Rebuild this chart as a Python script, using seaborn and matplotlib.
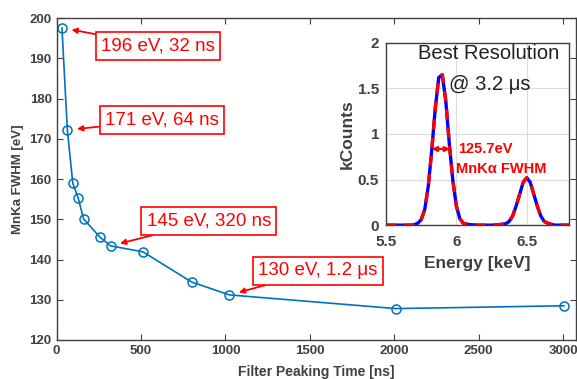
import numpy as np
import pandas as pd
import seaborn as sns
import matplotlib.pyplot as plt

# main curve: FWHM vs filter peaking time
peaking_ns = [32, 64, 96, 128, 160, 256, 320, 512, 800, 1024, 2010, 3005]
fwhm_ev = [197.6, 172.2, 159.0, 155.3, 150.1, 145.6, 143.4, 141.9, 134.4, 131.2, 127.8, 128.5]

# callouts: text, index of the point, box centre (data coords)
callout_text = ["196 eV, 32 ns", "171 eV, 64 ns", "145 eV, 320 ns", "130 eV, 1.2 \u03bcs"]
callout_idx = [0, 1, 6, 9]
callout_x = [600, 625, 902, 1549]
callout_y = [193.1, 174.7, 149.6, 137.2]

# inset spectrum
energy_kev = [5.50, 5.525, 5.55, 5.575, 5.60, 5.625, 5.65, 5.675, 5.70, 5.725,
              5.75, 5.775, 5.80, 5.825, 5.85, 5.875, 5.90, 5.925, 5.95, 5.975,
              6.00, 6.025, 6.05, 6.075, 6.10, 6.15, 6.20, 6.25, 6.30, 6.325,
              6.35, 6.375, 6.40, 6.425, 6.45, 6.475, 6.50, 6.525, 6.55, 6.575,
              6.60, 6.625, 6.65, 6.675, 6.70, 6.75, 6.80]
kcounts = [0.0, 0.0, 0.0, 0.0, 0.0, 0.0, 0.0, 0.0, 0.005, 0.02,
           0.06, 0.17, 0.42, 0.82, 1.28, 1.62, 1.65, 1.36, 0.89, 0.49,
           0.21, 0.07, 0.02, 0.01, 0.005, 0.0, 0.0, 0.0, 0.003, 0.01,
           0.015, 0.04, 0.10, 0.21, 0.34, 0.47, 0.52, 0.47, 0.34, 0.21,
           0.10, 0.04, 0.02, 0.01, 0.0, 0.0, 0.0]

sns.set_theme(style="ticks")
plt.rcParams['font.family'] = ['Liberation Sans', 'DejaVu Sans']
plt.rcParams['xtick.direction'] = 'in'
plt.rcParams['ytick.direction'] = 'in'

blue = '#0072BD'
gray = '#404040'

fig = plt.figure(figsize=(5.77, 3.79), dpi=100)
ax = fig.add_axes([0.098, 0.103, 0.9, 0.849])

df = pd.DataFrame({'t': peaking_ns, 'fwhm': fwhm_ev})
sns.lineplot(data=df, x='t', y='fwhm', ax=ax, color=blue, lw=1.2,
             marker='o', markersize=6.5, markerfacecolor='none',
             markeredgecolor=blue, markeredgewidth=1.1)

ax.set_xlim(0, 3075)
ax.set_ylim(120, 200)
ax.set_xticks(range(0, 3001, 500))
ax.set_yticks(range(120, 201, 10))
ax.tick_params(top=True, right=True, length=4, width=0.8, colors=gray,
               labelsize=9.5)
for lbl in ax.get_xticklabels() + ax.get_yticklabels():
    lbl.set_fontweight('bold')
for s in ax.spines.values():
    s.set_visible(True)
    s.set_color(gray)
    s.set_linewidth(1.0)
ax.set_xlabel('Filter Peaking Time [ns]', fontsize=10, fontweight='bold',
              color=gray, labelpad=6)
ax.set_ylabel('MnKa FWHM [eV]', fontsize=9.5, fontweight='bold',
              color=gray, labelpad=4)

for txt, i, bx, by in zip(callout_text, callout_idx, callout_x, callout_y):
    ax.annotate(txt, xy=(peaking_ns[i], fwhm_ev[i]), xytext=(bx, by),
                fontsize=13.5, color='red', ha='center', va='center',
                bbox=dict(boxstyle='square,pad=0.28', fc='white', ec='red', lw=1.2),
                arrowprops=dict(arrowstyle='-|>', color='red', lw=1.3,
                                shrinkA=0, shrinkB=7, mutation_scale=8))

# inset
ins = fig.add_axes([0.669, 0.406, 0.317, 0.481])
spec = pd.DataFrame({'E': energy_kev, 'k': kcounts})
sns.lineplot(data=spec, x='E', y='k', ax=ins, color='blue', lw=2.4)
sns.lineplot(data=spec, x='E', y='k', ax=ins, color='red', lw=2.4,
             linestyle=(0, (3, 2.5)))
ins.set_xlim(5.5, 6.8)
ins.set_ylim(0, 2)
ins.set_xticks([5.5, 6, 6.5])
ins.set_xticklabels(['5.5', '6', '6.5'])
ins.set_yticks([0, 0.5, 1, 1.5, 2])
ins.set_yticklabels(['0', '0.5', '1', '1.5', '2'])
ins.grid(True, color='#dcdcdc', lw=0.8)
ins.tick_params(axis='x', length=0, colors=gray, labelsize=11, pad=7)
ins.tick_params(axis='y', length=0, colors=gray, labelsize=11, pad=5)
for lbl in ins.get_xticklabels() + ins.get_yticklabels():
    lbl.set_fontweight('bold')
for s in ins.spines.values():
    s.set_color(gray)
    s.set_linewidth(1.0)
ins.set_xlabel('Energy [keV]', fontsize=12.5, fontweight='bold', color=gray,
               labelpad=5)
ins.set_ylabel('kCounts', fontsize=12.5, fontweight='bold', color=gray,
               labelpad=2)

ins.text(5.725, 1.88, 'Best Resolution', fontsize=14.5, color='#202020',
         va='center', ha='left')
ins.text(5.95, 1.54, '@ 3.2 \u03bcs', fontsize=14.5, color='#202020',
         va='center', ha='left')
ins.annotate('', xy=(5.825, 0.835), xytext=(5.955, 0.835),
             arrowprops=dict(arrowstyle='<|-|>', color='red', lw=1.6,
                             mutation_scale=7, shrinkA=0, shrinkB=0))
ins.text(6.015, 0.83, '125.7eV', fontsize=10.5, color='red',
         fontweight='bold', va='center', ha='left')
ins.text(6.0, 0.62, 'MnK\u03b1 FWHM', fontsize=10.5, color='red',
         fontweight='bold', va='center', ha='left')

fig.savefig('out.png', dpi=100)
